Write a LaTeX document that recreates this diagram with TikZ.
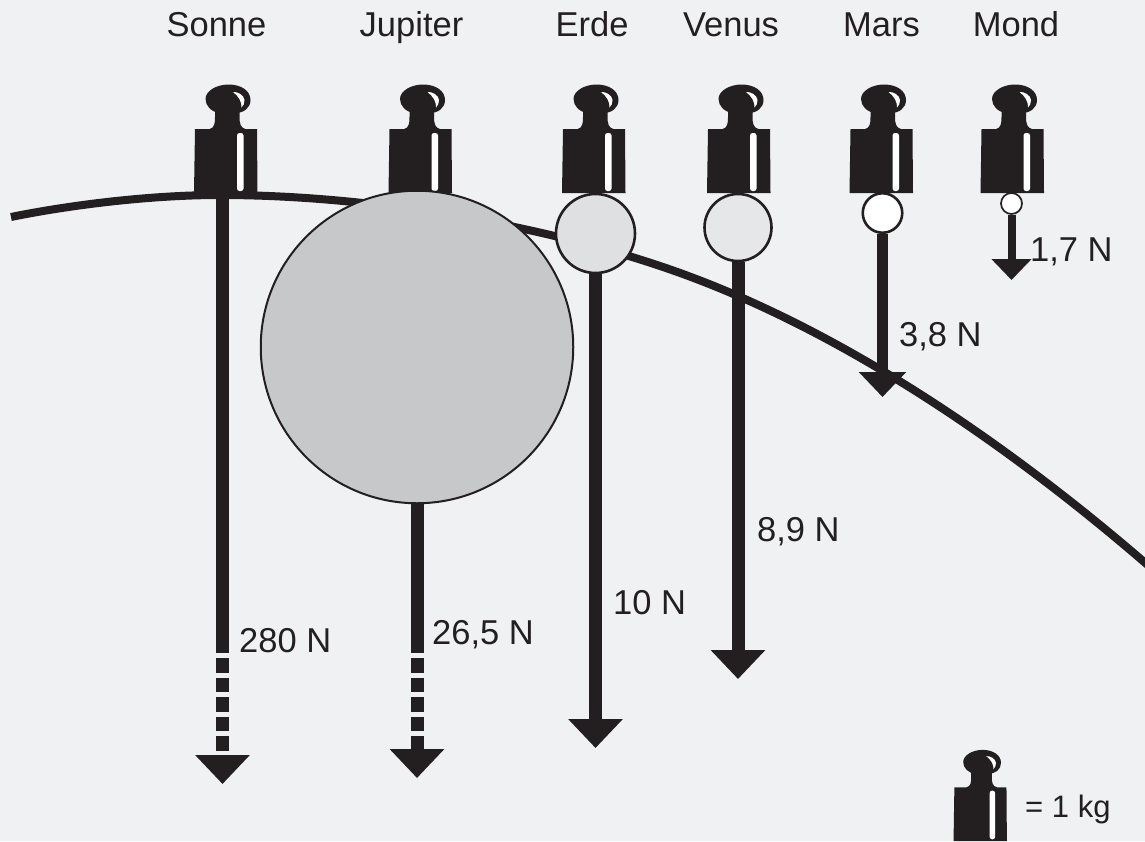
\documentclass[tikz,border=0pt]{standalone}
\usepackage{fontspec}
\setmainfont{Liberation Sans}
\usetikzlibrary{arrows.meta}
\definecolor{bgc}{HTML}{EFF1F3}
\definecolor{ink}{HTML}{231F20}
\definecolor{jup}{HTML}{C7C8CA}
\definecolor{ear}{HTML}{DFE0E1}
\definecolor{ven}{HTML}{E6E7E8}
\newcommand{\kgweight}[3][1]{%
\begin{scope}[shift={(#2,#3)},scale=#1]
\fill[ink] (-31.5,0) -- (-30.5,-64) -- (-16,-64) .. controls (-11,-65) and (-10.5,-70) .. (-10.5,-76)
 -- (-10.5,-84) -- (14,-84) -- (14,-76) .. controls (14,-70) and (15,-65) .. (20,-64) -- (31.5,-64) -- (32,0) -- cycle;
\fill[ink] (-20,-94) .. controls (-20,-102) and (-9,-108.5) .. (3,-108.5)
 .. controls (16,-108.5) and (25,-102) .. (25,-93) .. controls (25,-85) and (18,-80) .. (10,-80)
 -- (-6,-80) .. controls (-14,-81) and (-20,-87) .. (-20,-94) -- cycle;
\fill[white] (7.5,-101) .. controls (12,-101.5) and (18.5,-98) .. (19,-93) .. controls (19,-90) and (18,-87) .. (16,-85.5) .. controls (16.5,-91) and (13,-97) .. (7.5,-101) -- cycle;
\fill[white,rounded corners=2.5pt] (11.5,-60) rectangle (18,-2);
\end{scope}}
\tikzset{
 x=1pt,y=-1pt,
 force/.style={draw=ink,line width=13pt,-{Triangle[length=29pt,width=53pt]}},
 mid force/.style={draw=ink,line width=11pt,-{Triangle[length=25pt,width=46pt]}},
 small force/.style={draw=ink,line width=8pt,-{Triangle[length=21pt,width=39pt]}},
 shaft/.style={draw=ink,line width=13pt},
 dashpart/.style={force,dash pattern=on 14.5pt off 5pt},
 planet/.style={circle,draw=ink,inner sep=0pt,line width=2.6pt},
 name label/.style={font=\fontsize{34.5}{40}\selectfont,text=ink,inner sep=0pt,anchor=base},
 val label/.style={font=\fontsize{34.5}{40}\selectfont,text=ink,inner sep=0pt,anchor=base west},
}
\begin{document}
\begin{tikzpicture}
\useasboundingbox (0,0) rectangle (1145,841);
\fill[bgc] (0,0) rectangle (1145,841);
% orbit
\draw[ink,line width=8pt] (11,217) .. controls (70,205) and (150,195) .. (220,195)
 .. controls (380,195) and (560,228.5) .. (687,275.5)
 .. controls (840,332) and (1000,437) .. (1150,567);
% weights
\kgweight{225.5}{193}\kgweight{420}{193}\kgweight{593.5}{193}
\kgweight{738.5}{193}\kgweight{881}{193}\kgweight{1012}{193}
\kgweight[0.84]{980}{841}
% bodies
\node[planet,fill=jup,minimum size=312.5pt,line width=2pt] (jupiter) at (417,347) {};
\node[planet,fill=ear,minimum size=79pt] (erde) at (595.5,233.5) {};
\node[planet,fill=ven,minimum size=67pt] (venus) at (738,227.5) {};
\node[planet,fill=white,minimum size=39.5pt] (mars) at (882.5,213) {};
\node[planet,fill=white,minimum size=21pt,line width=1.7pt] (mond) at (1011.5,203.5) {};
\coordinate (sonne) at (222.5,197);
% force ends
\coordinate (s1) at (222.5,653);\coordinate (s2) at (222.5,658);\coordinate (s3) at (222.5,784);
\coordinate (j1) at (417,653);\coordinate (j2) at (417,658);\coordinate (j3) at (417,778);
\coordinate (e1) at (595.5,748);
\coordinate (v1) at (738,679);
\coordinate (m1) at (882.5,397);
\coordinate (o1) at (1011.5,280);
% arrows
\draw[shaft] (sonne) -- (s1);
\draw[dashpart] (s2) -- (s3);
\draw[shaft] (jupiter.south) -- (j1);
\draw[dashpart] (j2) -- (j3);
\draw[force] (erde.south) -- (e1);
\draw[force] (venus.south) -- (v1);
\draw[mid force] (mars.south) -- (m1);
\draw[small force] (mond.south) -- (o1);
% labels
\node[name label] (n1) at (216.5,36) {Sonne};
\node[name label] (n2) at (411.5,36) {Jupiter};
\node[name label] (n3) at (592,36) {Erde};
\node[name label] (n4) at (731,36) {Venus};
\node[name label] (n5) at (881.5,36) {Mars};
\node[name label] (n6) at (1016,36) {Mond};
\node[val label] (f1) at (239,652) {280 N};
\node[val label] (f2) at (432,644) {26,5 N};
\node[val label] (f3) at (613,614) {10 N};
\node[val label] (f4) at (757,541) {8,9 N};
\node[val label] (f5) at (899,346) {3,8 N};
\node[val label] (f6) at (1030,261) {1,7 N};
\node[val label,font=\fontsize{31}{37}\selectfont] (k) at (1025,817) {= 1 kg};
\end{tikzpicture}
\end{document}
